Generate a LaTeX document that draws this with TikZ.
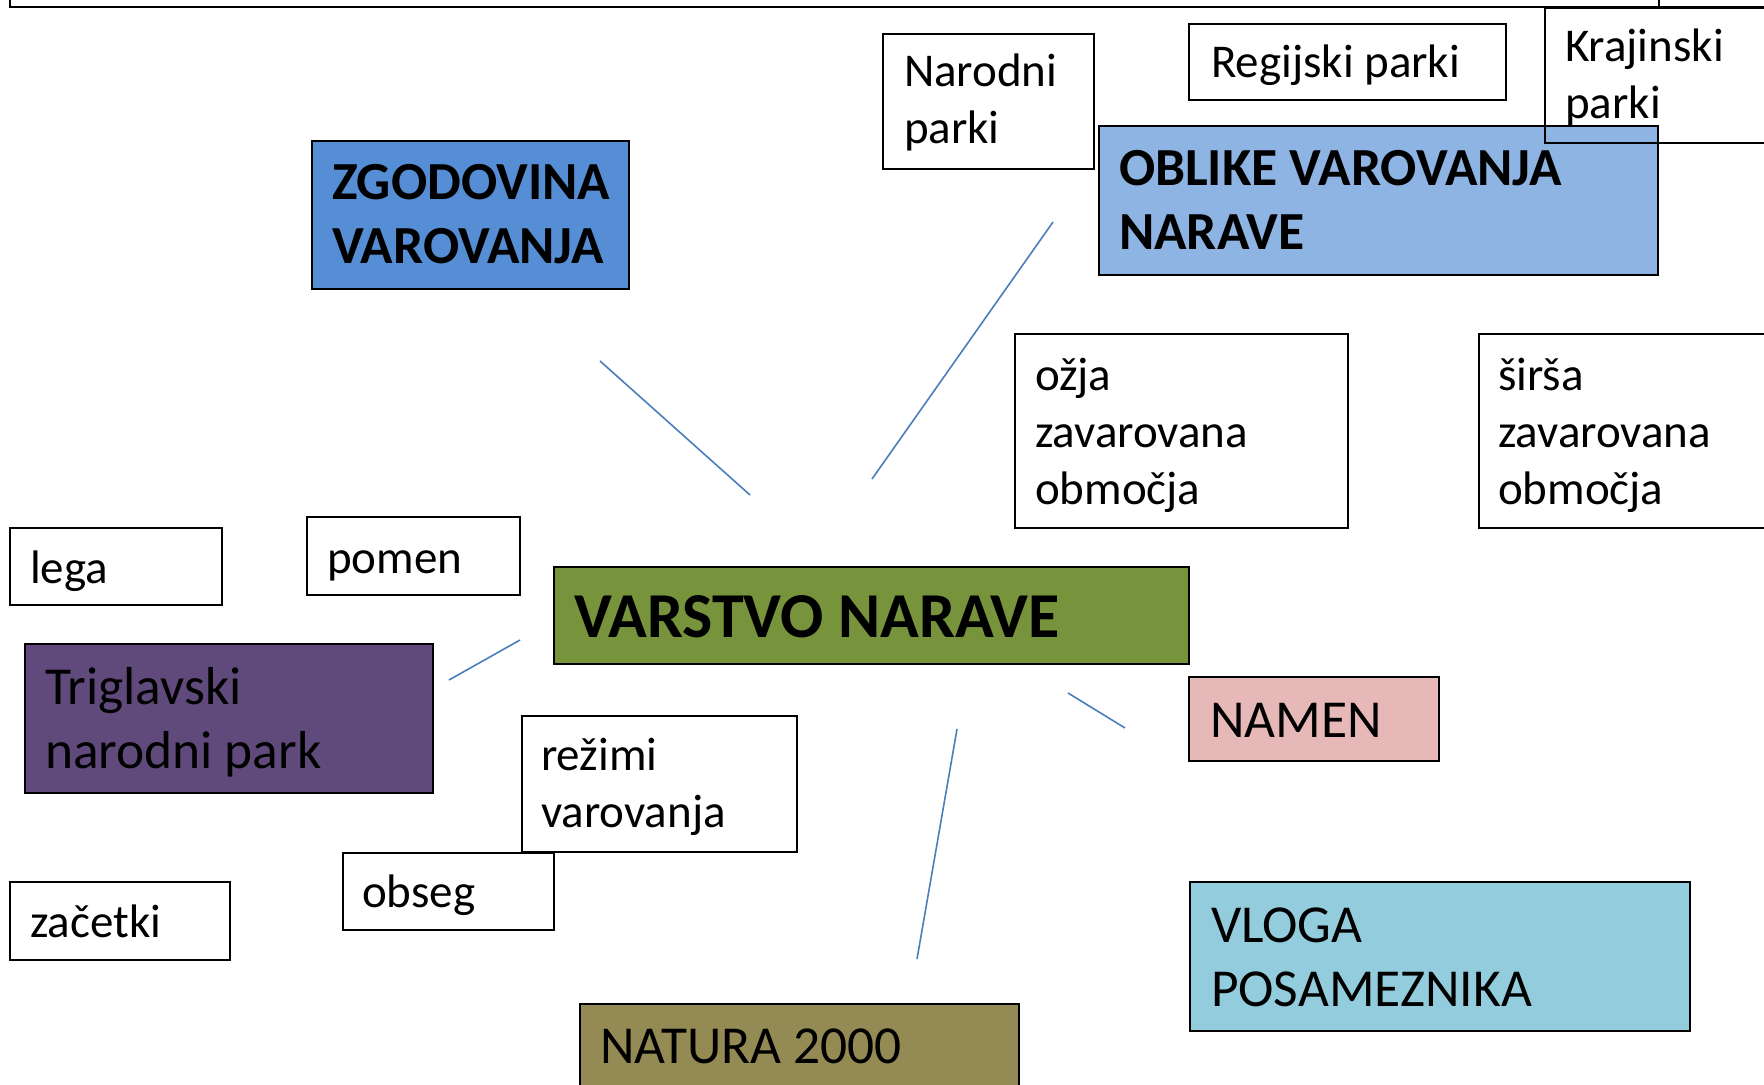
\documentclass[tikz,border=0pt]{standalone}
\usepackage{fontspec}
\setmainfont{Carlito}
\definecolor{zgcol}{HTML}{558ED5}
\definecolor{obcol}{HTML}{8EB4E3}
\definecolor{vncol}{HTML}{77933C}
\definecolor{trcol}{HTML}{604A7B}
\definecolor{nmcol}{HTML}{E6B9B8}
\definecolor{vlcol}{HTML}{93CDDD}
\definecolor{natcol}{HTML}{948A54}
\definecolor{lncol}{HTML}{4A7EBB}
\begin{document}
\begin{tikzpicture}[x=0.5pt,y=-0.5pt,
  box/.style={draw=black, line width=1pt, inner sep=0pt, outer sep=0pt, anchor=north west, rectangle},
  lbl/.style={anchor=base west, inner sep=0pt, outer sep=0pt, align=flush left, text width=400pt, xshift=-0.5pt},
  small/.style={font=\fontsize{23.5}{28.5}\selectfont},
  medium/.style={font=\fontsize{26.7}{32}\selectfont},
  head/.style={font=\fontsize{26.8}{31.75}\selectfont\bfseries},
  big/.style={font=\fontsize{32}{38}\selectfont\bfseries},
  conn/.style={draw=lncol, line width=0.8pt}]
\useasboundingbox (0,0) rectangle (1764,1085);
\clip (0,0) rectangle (1764,1085);
% top bar
\node[box, minimum width=824.5pt, minimum height=18.5pt] (topA) at (10,-30) {};
\node[box, minimum width=100pt, minimum height=18.5pt] (topB) at (1659,-30) {};
% boxes
\node[box, minimum width=105.5pt, minimum height=67.5pt] (narodni) at (883,34) {};
\node[lbl, small] (tnarodni) at (905,87) {Narodni\\parki};
\node[box, minimum width=158.5pt, minimum height=38pt] (regijski) at (1189,24) {};
\node[lbl, small] (tregijski) at (1212,78) {Regijski parki};
\node[box, fill=obcol, minimum width=279.5pt, minimum height=74.5pt] (oblike) at (1099,126) {};
\node[lbl, head] (toblike) at (1120,186) {OBLIKE VAROVANJA\\NARAVE};
\node[box, minimum width=127.5pt, minimum height=67.5pt] (krajinski) at (1545,8) {};
\node[lbl, small] (tkrajinski) at (1566,62) {Krajinski\\parki};
\node[box, fill=zgcol, minimum width=158.5pt, minimum height=74pt] (zgod) at (312,141) {};
\node[lbl, head] (tzgod) at (333,200) {ZGODOVINA\\VAROVANJA};
\node[box, minimum width=166.5pt, minimum height=97pt] (ozja) at (1015,334) {};
\node[lbl, small] (tozja) at (1036,390) {ožja\\zavarovana\\območja};
\node[box, minimum width=160.5pt, minimum height=97pt] (sirsa) at (1479,334) {};
\node[lbl, small] (tsirsa) at (1499,390) {širša\\zavarovana\\območja};
\node[box, minimum width=106pt, minimum height=38.5pt] (lega) at (10,528) {};
\node[lbl, small] (tlega) at (31,583) {lega};
\node[box, minimum width=106.5pt, minimum height=39pt] (pomen) at (307,517) {};
\node[lbl, small] (tpomen) at (328,573) {pomen};
\node[box, fill=vncol, minimum width=317.5pt, minimum height=48.5pt] (varstvo) at (554,567) {};
\node[lbl, big] (tvarstvo) at (575,637) {VARSTVO NARAVE};
\node[box, fill=trcol, minimum width=204pt, minimum height=74.5pt] (trig) at (25,644) {};
\node[lbl, medium] (ttrig) at (46,704) {Triglavski\\narodni park};
\node[box, minimum width=137.5pt, minimum height=68pt] (rezimi) at (522,716) {};
\node[lbl, small] (trezimi) at (542,770) {režimi\\varovanja};
\node[box, minimum width=105.5pt, minimum height=38.5pt] (obseg) at (343,853) {};
\node[lbl, small] (tobseg) at (363,907) {obseg};
\node[box, minimum width=110pt, minimum height=39pt] (zacetki) at (10,882) {};
\node[lbl, small] (tzacetki) at (31,937) {začetki};
\node[box, fill=natcol, minimum width=219.5pt, minimum height=58pt] (natura) at (580,1004) {};
\node[lbl, medium] (tnatura) at (601,1063) {NATURA 2000};
\node[box, fill=nmcol, minimum width=125pt, minimum height=42pt] (namen) at (1189,677) {};
\node[lbl, medium] (tnamen) at (1211,737) {NAMEN};
\node[box, fill=vlcol, minimum width=250pt, minimum height=74.5pt] (vloga) at (1190,882) {};
\node[lbl, medium] (tvloga) at (1212,942) {VLOGA\\POSAMEZNIKA};
% connectors
\coordinate (z1) at (600,361); \coordinate (z2) at (750,495);
\coordinate (o1) at (1053,222); \coordinate (o2) at (872,479);
\coordinate (t1) at (520,640); \coordinate (t2) at (449,680);
\coordinate (m1) at (1068,693); \coordinate (m2) at (1125,728);
\coordinate (a1) at (957,729); \coordinate (a2) at (917,959);
\draw[conn] (z1) -- (z2);
\draw[conn] (o1) -- (o2);
\draw[conn] (t1) -- (t2);
\draw[conn] (m1) -- (m2);
\draw[conn] (a1) -- (a2);
\end{tikzpicture}
\end{document}
